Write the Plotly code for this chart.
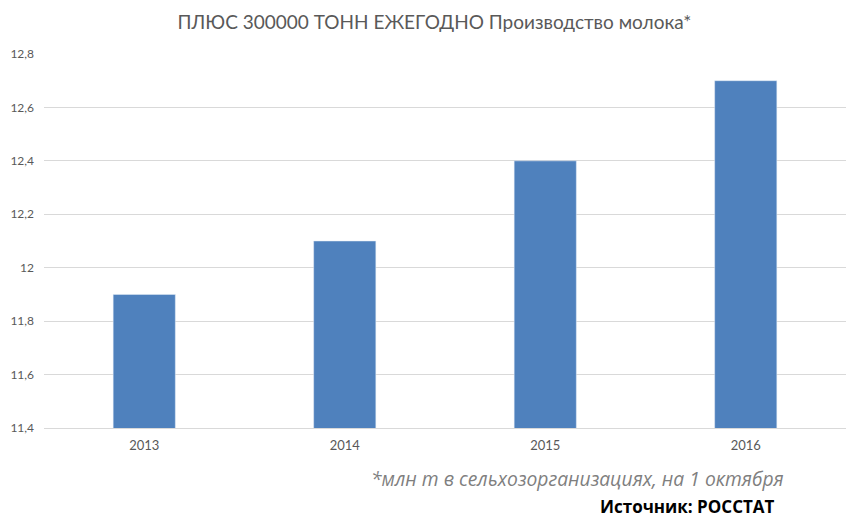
import plotly.graph_objects as go

years = ["2013", "2014", "2015", "2016"]
values = [11.9, 12.1, 12.4, 12.7]
y_ticks = [11.4, 11.6, 11.8, 12.0, 12.2, 12.4, 12.6, 12.8]
y_tick_labels = ["11,4", "11,6", "11,8", "12", "12,2", "12,4", "12,6", "12,8"]

fig = go.Figure(go.Bar(x=years, y=values, marker_color="#4F81BD", width=0.31))
fig.update_layout(
    width=853, height=517,
    margin=dict(l=36, r=15, t=46, b=97, autoexpand=False),
    plot_bgcolor="white", paper_bgcolor="white",
    showlegend=False,
    font=dict(family="Lato, sans-serif", color="#595959", size=12),
    title=dict(text="ПЛЮС 300000 ТОНН ЕЖЕГОДНО Производство молока*",
               x=0.5, xanchor="center", y=0.973, yanchor="middle",
               font=dict(size=19, color="#595959", family="Lato, sans-serif")),
    xaxis=dict(showline=True, linecolor="#D9D9D9", ticks="", tickfont=dict(size=13),
               ticklabelstandoff=5),
    yaxis=dict(range=[11.4, 12.8], tickvals=y_ticks, ticktext=y_tick_labels,
               gridcolor="#D9D9D9", zeroline=False, showline=False,
               tickfont=dict(size=12), ticklabelstandoff=9),
    annotations=[
        dict(text="<i>*млн т в сельхозорганизациях, на 1 октября</i>", xref="paper", yref="paper",
             x=0.925, y=-0.136, xanchor="right", yanchor="middle", showarrow=False,
             font=dict(size=19.3, color="#7F7F7F", family="Open Sans, sans-serif")),
        dict(text="<b>Источник: РОССТАТ</b>", xref="paper", yref="paper",
             x=0.914, y=-0.2086, xanchor="right", yanchor="middle", showarrow=False,
             font=dict(size=17, color="#000000", family="Open Sans, sans-serif")),
    ],
)
fig.write_html("out.html")
